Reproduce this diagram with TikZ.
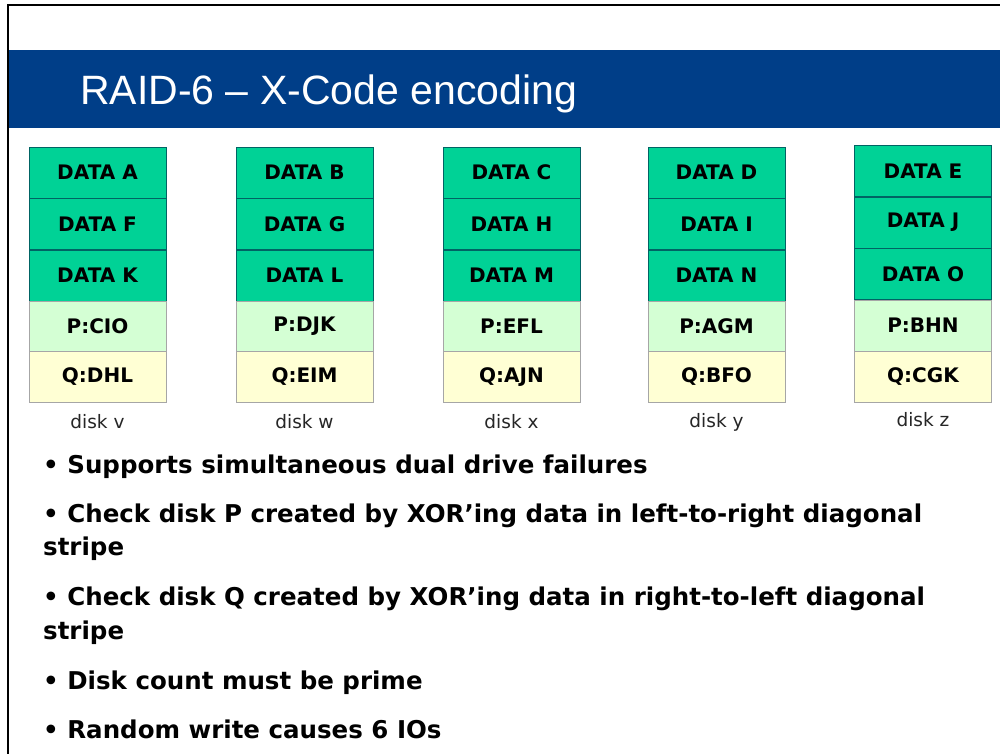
\documentclass[tikz,border=0pt]{standalone}
\usepackage{fontspec}
\setmainfont{DejaVu Sans}
\newfontfamily\titlefont{Liberation Sans}
\usepackage{tikz}
\usetikzlibrary{positioning}
\definecolor{band}{RGB}{0,62,136}
\definecolor{datafill}{RGB}{0,210,150}
\definecolor{dataline}{RGB}{0,100,100}
\definecolor{pfill}{RGB}{212,255,212}
\definecolor{qfill}{RGB}{255,255,212}
\newcommand{\cellfont}{\fontsize{20}{22}\selectfont\bfseries}

\begin{document}
\begin{tikzpicture}[x=1pt,y=-1pt,
	cell/.style={draw=gray!70,minimum width=137pt,minimum height=51pt,inner sep=0pt,font=\cellfont},
	data/.style={cell,fill=datafill,draw=dataline},
	pbox/.style={cell,fill=pfill},
	qbox/.style={cell,fill=qfill},
	disk/.style={text=black!85,font=\fontsize{18.5}{20}\selectfont},
	bullet/.style={anchor=base west,inner sep=0pt,font=\fontsize{24.5}{28}\selectfont\bfseries}]
	\useasboundingbox (0,0) rectangle (1000,754);
	\fill[white] (0,0) rectangle (1000,754);
	%frame and title band
	\fill[band] (9,50) rectangle (1000,128);
	\draw[line width=2pt] (8,754) -- (8,5) -- (1000,5);
	\node[anchor=base west,inner sep=0pt,text=white,font=\titlefont\fontsize{41}{44}\selectfont] (title) at (80,105) {RAID-6 – X-Code encoding};
	%disk v
	\node[data] (v1) at (97.5,172.5) {DATA A};
	\node[data] (v2) at (97.5,224) {DATA F};
	\node[data] (v3) at (97.5,275.5) {DATA K};
	\node[pbox] (v4) at (97.5,326.5) {P:CIO};
	\node[qbox] (v5) at (97.5,377) {Q:DHL};
	\node[disk] (dv) at (97.5,422) {disk v};
	%disk w
	\node[data] (w1) at (304.5,172.5) {DATA B};
	\node[data] (w2) at (304.5,224) {DATA G};
	\node[data] (w3) at (304.5,275.5) {DATA L};
	\node[pbox] (w4) at (304.5,326.5) {P:DJK};
	\node[qbox] (w5) at (304.5,377) {Q:EIM};
	\node[disk] (dw) at (304.5,422) {disk w};
	%disk x
	\node[data] (x1) at (511.5,172.5) {DATA C};
	\node[data] (x2) at (511.5,224) {DATA H};
	\node[data] (x3) at (511.5,275.5) {DATA M};
	\node[pbox] (x4) at (511.5,326.5) {P:EFL};
	\node[qbox] (x5) at (511.5,377) {Q:AJN};
	\node[disk] (dx) at (511.5,422) {disk x};
	%disk y
	\node[data] (y1) at (716.5,172.5) {DATA D};
	\node[data] (y2) at (716.5,224) {DATA I};
	\node[data] (y3) at (716.5,275.5) {DATA N};
	\node[pbox] (y4) at (716.5,326.5) {P:AGM};
	\node[qbox] (y5) at (716.5,377) {Q:BFO};
	\node[disk] (dy) at (716.5,422) {disk y};
	%disk z
	\node[data] (z1) at (923,171) {DATA E};
	\node[data] (z2) at (923,222.5) {DATA J};
	\node[data] (z3) at (923,274) {DATA O};
	\node[pbox] (z4) at (923,325.5) {P:BHN};
	\node[qbox] (z5) at (923,376.5) {Q:CGK};
	\node[disk] (dz) at (923,420) {disk z};
	%bullets
	\node[bullet] (b1) at (43,473) {• Supports simultaneous dual drive failures};
	\node[bullet] (b2) at (43,522) {• Check disk P created by XOR’ing data in left-to-right diagonal};
	\node[bullet] (b2s) at (43,555) {stripe};
	\node[bullet] (b3) at (43,605) {• Check disk Q created by XOR’ing data in right-to-left diagonal};
	\node[bullet] (b3s) at (43,639) {stripe};
	\node[bullet] (b4) at (43,689) {• Disk count must be prime};
	\node[bullet] (b5) at (43,738) {• Random write causes 6 IOs};
\end{tikzpicture}
\end{document}
